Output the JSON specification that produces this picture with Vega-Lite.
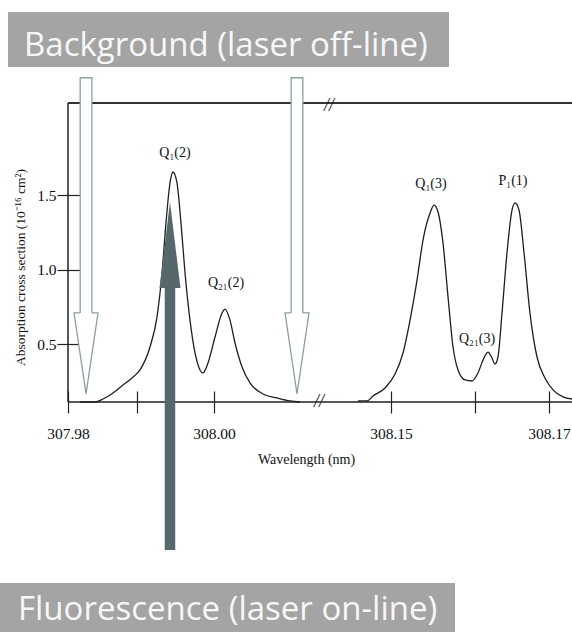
{
  "$schema": "https://vega.github.io/schema/vega-lite/v6.json",
  "width": 504,
  "height": 299,
  "autosize": "none",
  "padding": {"left": 68, "top": 103, "right": 0, "bottom": 230},
  "background": "white",
  "config": {"view": {"stroke": null}, "axis": {"grid": false, "domain": false}},
  "datasets": {
    "spectrum": [
      {"seg": "a", "wl": 307.98164, "v": 0.112},
      {"seg": "a", "wl": 307.98370, "v": 0.112},
      {"seg": "a", "wl": 307.98479, "v": 0.132},
      {"seg": "a", "wl": 307.98575, "v": 0.159},
      {"seg": "a", "wl": 307.98753, "v": 0.226},
      {"seg": "a", "wl": 307.98877, "v": 0.273},
      {"seg": "a", "wl": 307.98986, "v": 0.327},
      {"seg": "a", "wl": 307.99123, "v": 0.481},
      {"seg": "a", "wl": 307.99219, "v": 0.682},
      {"seg": "a", "wl": 307.99288, "v": 0.978},
      {"seg": "a", "wl": 307.99342, "v": 1.313},
      {"seg": "a", "wl": 307.99397, "v": 1.582},
      {"seg": "a", "wl": 307.99438, "v": 1.656},
      {"seg": "a", "wl": 307.99493, "v": 1.582},
      {"seg": "a", "wl": 307.99548, "v": 1.313},
      {"seg": "a", "wl": 307.99603, "v": 0.978},
      {"seg": "a", "wl": 307.99671, "v": 0.662},
      {"seg": "a", "wl": 307.99740, "v": 0.441},
      {"seg": "a", "wl": 307.99808, "v": 0.327},
      {"seg": "a", "wl": 307.99849, "v": 0.307},
      {"seg": "a", "wl": 307.99918, "v": 0.374},
      {"seg": "a", "wl": 308.00014, "v": 0.548},
      {"seg": "a", "wl": 308.00110, "v": 0.709},
      {"seg": "a", "wl": 308.00151, "v": 0.736},
      {"seg": "a", "wl": 308.00219, "v": 0.662},
      {"seg": "a", "wl": 308.00288, "v": 0.508},
      {"seg": "a", "wl": 308.00384, "v": 0.347},
      {"seg": "a", "wl": 308.00493, "v": 0.240},
      {"seg": "a", "wl": 308.00671, "v": 0.166},
      {"seg": "a", "wl": 308.00863, "v": 0.139},
      {"seg": "a", "wl": 308.01041, "v": 0.119},
      {"seg": "a", "wl": 308.01178, "v": 0.112},
      {"seg": "b", "wl": 308.14582, "v": 0.119},
      {"seg": "b", "wl": 308.14696, "v": 0.119},
      {"seg": "b", "wl": 308.14772, "v": 0.152},
      {"seg": "b", "wl": 308.14924, "v": 0.206},
      {"seg": "b", "wl": 308.15051, "v": 0.300},
      {"seg": "b", "wl": 308.15152, "v": 0.441},
      {"seg": "b", "wl": 308.15241, "v": 0.662},
      {"seg": "b", "wl": 308.15329, "v": 0.930},
      {"seg": "b", "wl": 308.15405, "v": 1.199},
      {"seg": "b", "wl": 308.15494, "v": 1.380},
      {"seg": "b", "wl": 308.15544, "v": 1.434},
      {"seg": "b", "wl": 308.15595, "v": 1.387},
      {"seg": "b", "wl": 308.15658, "v": 1.179},
      {"seg": "b", "wl": 308.15722, "v": 0.816},
      {"seg": "b", "wl": 308.15785, "v": 0.481},
      {"seg": "b", "wl": 308.15848, "v": 0.327},
      {"seg": "b", "wl": 308.15937, "v": 0.260},
      {"seg": "b", "wl": 308.16025, "v": 0.253},
      {"seg": "b", "wl": 308.16101, "v": 0.307},
      {"seg": "b", "wl": 308.16165, "v": 0.394},
      {"seg": "b", "wl": 308.16228, "v": 0.447},
      {"seg": "b", "wl": 308.16278, "v": 0.407},
      {"seg": "b", "wl": 308.16316, "v": 0.367},
      {"seg": "b", "wl": 308.16354, "v": 0.414},
      {"seg": "b", "wl": 308.16405, "v": 0.709},
      {"seg": "b", "wl": 308.16468, "v": 1.112},
      {"seg": "b", "wl": 308.16532, "v": 1.401},
      {"seg": "b", "wl": 308.16570, "v": 1.448},
      {"seg": "b", "wl": 308.16620, "v": 1.401},
      {"seg": "b", "wl": 308.16684, "v": 1.112},
      {"seg": "b", "wl": 308.16759, "v": 0.709},
      {"seg": "b", "wl": 308.16848, "v": 0.414},
      {"seg": "b", "wl": 308.16949, "v": 0.273},
      {"seg": "b", "wl": 308.17051, "v": 0.193},
      {"seg": "b", "wl": 308.17177, "v": 0.146},
      {"seg": "b", "wl": 308.17291, "v": 0.132}
    ],
    "peaks": [
      {"wl": 307.99466, "v": 1.783, "text": "Q₁(2)"},
      {"wl": 308.00164, "v": 0.911, "text": "Q₂₁(2)"},
      {"wl": 308.15506, "v": 1.575, "text": "Q₁(3)"},
      {"wl": 308.16544, "v": 1.595, "text": "P₁(1)"},
      {"wl": 308.16089, "v": 0.535, "text": "Q₂₁(3)"}
    ],
    "boxes": [
      {"wl": 307.97178, "wl2": 308.15734, "v": 2.729, "v2": 2.360},
      {"wl": 307.9700, "wl2": 308.15810, "v": -1.103, "v2": -1.700}
    ],
    "boxtext": [
      {"wl": 307.97397, "v": 2.434, "text": "Background (laser off-line)"},
      {"wl": 307.97315, "v": -1.351, "text": "Fluorescence (laser on-line)"}
    ],
    "hollow": [
      {"wl": 307.98247, "v": 2.293, "v2": 0.700, "v_in": 2.283, "tip": 0.166},
      {"wl": 308.01137, "v": 2.293, "v2": 0.700, "v_in": 2.283, "tip": 0.166}
    ],
    "solid": [
      {"wl": 307.99397, "v": -0.881, "v2": 0.889, "tip": 1.454}
    ],
    "breaks": [
      {"wl": 308.14215, "v": 2.098, "text": "//"},
      {"wl": 308.01438, "v": 0.112, "text": "//"}
    ],
    "frame": [
      {"wl": 307.98, "top": 2.119, "bottom": 0.112}
    ]
  },
  "layer": [
    {
      "data": {"name": "boxes"},
      "mark": {"type": "rect", "color": "#a4a4a4"},
      "encoding": {
        "x": {"field": "wl", "type": "quantitative", "scale": {"domain": [307.98, 308.01452, 308.14101, 308.17291], "range": [0, 252, 252, 504], "zero": false, "nice": false}},
        "x2": {"field": "wl2"},
        "y": {"field": "v", "type": "quantitative", "scale": {"domain": [0.112, 2.119], "zero": false, "nice": false}},
        "y2": {"field": "v2"}
      }
    },
    {
      "data": {"name": "boxtext"},
      "mark": {"type": "text", "align": "left", "baseline": "alphabetic", "font": "Open Sans", "fontSize": 33, "color": "#f7f7f7"},
      "encoding": {
        "x": {"field": "wl", "type": "quantitative", "scale": {"domain": [307.98, 308.01452, 308.14101, 308.17291], "range": [0, 252, 252, 504], "zero": false, "nice": false}},
        "y": {"field": "v", "type": "quantitative", "scale": {"domain": [0.112, 2.119], "zero": false, "nice": false}},
        "text": {"field": "text"}
      }
    },
    {
      "data": {"name": "frame"},
      "mark": {"type": "rule", "color": "#333333", "strokeWidth": 2},
      "encoding": {"y": {"field": "top", "type": "quantitative", "scale": {"domain": [0.112, 2.119], "zero": false, "nice": false}}}
    },
    {
      "data": {"name": "frame"},
      "mark": {"type": "rule", "color": "#222222", "strokeWidth": 1.3},
      "encoding": {"y": {"field": "bottom", "type": "quantitative", "scale": {"domain": [0.112, 2.119], "zero": false, "nice": false}}}
    },
    {
      "data": {"name": "frame"},
      "mark": {"type": "rule", "color": "#222222", "strokeWidth": 1.5},
      "encoding": {"x": {"field": "wl", "type": "quantitative", "scale": {"domain": [307.98, 308.01452, 308.14101, 308.17291], "range": [0, 252, 252, 504], "zero": false, "nice": false}}}
    },
    {
      "data": {"name": "spectrum"},
      "mark": {"type": "line", "color": "#1e1e1e", "strokeWidth": 1.3, "interpolate": "monotone"},
      "encoding": {
        "x": {
          "field": "wl", "type": "quantitative",
          "scale": {"domain": [307.98, 308.01452, 308.14101, 308.17291], "range": [0, 252, 252, 504], "zero": false, "nice": false},
          "axis": {
            "values": [307.98, 307.98945, 308.0, 308.15, 308.16063, 308.17],
            "labelExpr": "(abs(datum.value-307.98945)<0.0005 || abs(datum.value-308.16063)<0.0005) ? '' : format(datum.value,'.2f')",
            "offset": -11, "tickSize": 22, "tickColor": "#222", "tickWidth": 1.2,
            "labelPadding": 13, "labelFont": "Liberation Serif", "labelFontSize": 15.5, "labelColor": "#111111",
            "labelOverlap": false, "labelFlush": false,
            "title": "Wavelength (nm)", "titleFont": "Liberation Serif", "titleFontSize": 14, "titleFontWeight": "normal",
            "titleColor": "#111111", "titleX": 238, "titleY": 68, "titleAlign": "center", "titleBaseline": "middle"
          }
        },
        "y": {
          "field": "v", "type": "quantitative",
          "scale": {"domain": [0.112, 2.119], "zero": false, "nice": false},
          "axis": {
            "values": [0.5, 1.0, 1.5], "format": ".1f",
            "offset": -12, "tickSize": 23, "tickColor": "#222", "tickWidth": 1.2,
            "labelPadding": 1, "labelFont": "Liberation Serif", "labelFontSize": 15.5, "labelColor": "#111111",
            "title": "Absorption cross section (10⁻¹⁶ cm²)", "titleFont": "Liberation Serif", "titleFontSize": 13.5,
            "titleFontWeight": "normal", "titleColor": "#111111", "titleX": -60, "titleY": 164,
            "titleAngle": -90, "titleAlign": "center", "titleBaseline": "middle"
          }
        },
        "detail": {"field": "seg"}
      }
    },
    {
      "data": {"name": "peaks"},
      "mark": {"type": "text", "font": "Liberation Serif", "fontSize": 14, "color": "#111111", "baseline": "middle"},
      "encoding": {
        "x": {"field": "wl", "type": "quantitative", "scale": {"domain": [307.98, 308.01452, 308.14101, 308.17291], "range": [0, 252, 252, 504], "zero": false, "nice": false}},
        "y": {"field": "v", "type": "quantitative", "scale": {"domain": [0.112, 2.119], "zero": false, "nice": false}},
        "text": {"field": "text"}
      }
    },
    {
      "data": {"name": "breaks"},
      "mark": {"type": "text", "font": "Liberation Serif", "fontSize": 18, "fontStyle": "italic", "color": "#222", "baseline": "middle"},
      "encoding": {
        "x": {"field": "wl", "type": "quantitative", "scale": {"domain": [307.98, 308.01452, 308.14101, 308.17291], "range": [0, 252, 252, 504], "zero": false, "nice": false}},
        "y": {"field": "v", "type": "quantitative", "scale": {"domain": [0.112, 2.119], "zero": false, "nice": false}},
        "text": {"field": "text"}
      }
    },
    {
      "data": {"name": "hollow"},
      "mark": {"type": "rule", "color": "#8c9ea1", "strokeWidth": 13},
      "encoding": {
        "x": {"field": "wl", "type": "quantitative", "scale": {"domain": [307.98, 308.01452, 308.14101, 308.17291], "range": [0, 252, 252, 504], "zero": false, "nice": false}},
        "y": {"field": "v", "type": "quantitative", "scale": {"domain": [0.112, 2.119], "zero": false, "nice": false}},
        "y2": {"field": "v2"}
      }
    },
    {
      "data": {"name": "hollow"},
      "mark": {"type": "rule", "color": "#ffffff", "strokeWidth": 10.4},
      "encoding": {
        "x": {"field": "wl", "type": "quantitative", "scale": {"domain": [307.98, 308.01452, 308.14101, 308.17291], "range": [0, 252, 252, 504], "zero": false, "nice": false}},
        "y": {"field": "v_in", "type": "quantitative", "scale": {"domain": [0.112, 2.119], "zero": false, "nice": false}},
        "y2": {"field": "v2"}
      }
    },
    {
      "data": {"name": "hollow"},
      "mark": {"type": "point", "shape": "M -6 -81 L -12 -81 L 0 0 L 12 -81 L 6 -81", "size": 4, "fill": "#ffffff", "stroke": "#8c9ea1", "strokeWidth": 1.3, "opacity": 1, "fillOpacity": 1},
      "encoding": {
        "x": {"field": "wl", "type": "quantitative", "scale": {"domain": [307.98, 308.01452, 308.14101, 308.17291], "range": [0, 252, 252, 504], "zero": false, "nice": false}},
        "y": {"field": "tip", "type": "quantitative", "scale": {"domain": [0.112, 2.119], "zero": false, "nice": false}}
      }
    },
    {
      "data": {"name": "solid"},
      "mark": {"type": "rule", "color": "#56686b", "strokeWidth": 10.5},
      "encoding": {
        "x": {"field": "wl", "type": "quantitative", "scale": {"domain": [307.98, 308.01452, 308.14101, 308.17291], "range": [0, 252, 252, 504], "zero": false, "nice": false}},
        "y": {"field": "v", "type": "quantitative", "scale": {"domain": [0.112, 2.119], "zero": false, "nice": false}},
        "y2": {"field": "v2"}
      }
    },
    {
      "data": {"name": "solid"},
      "mark": {"type": "point", "shape": "M 0 0 L 10.5 86 L -10.5 86 Z", "size": 4, "filled": true, "fill": "#56686b", "strokeWidth": 0, "opacity": 1, "fillOpacity": 1},
      "encoding": {
        "x": {"field": "wl", "type": "quantitative", "scale": {"domain": [307.98, 308.01452, 308.14101, 308.17291], "range": [0, 252, 252, 504], "zero": false, "nice": false}},
        "y": {"field": "tip", "type": "quantitative", "scale": {"domain": [0.112, 2.119], "zero": false, "nice": false}}
      }
    }
  ]
}
